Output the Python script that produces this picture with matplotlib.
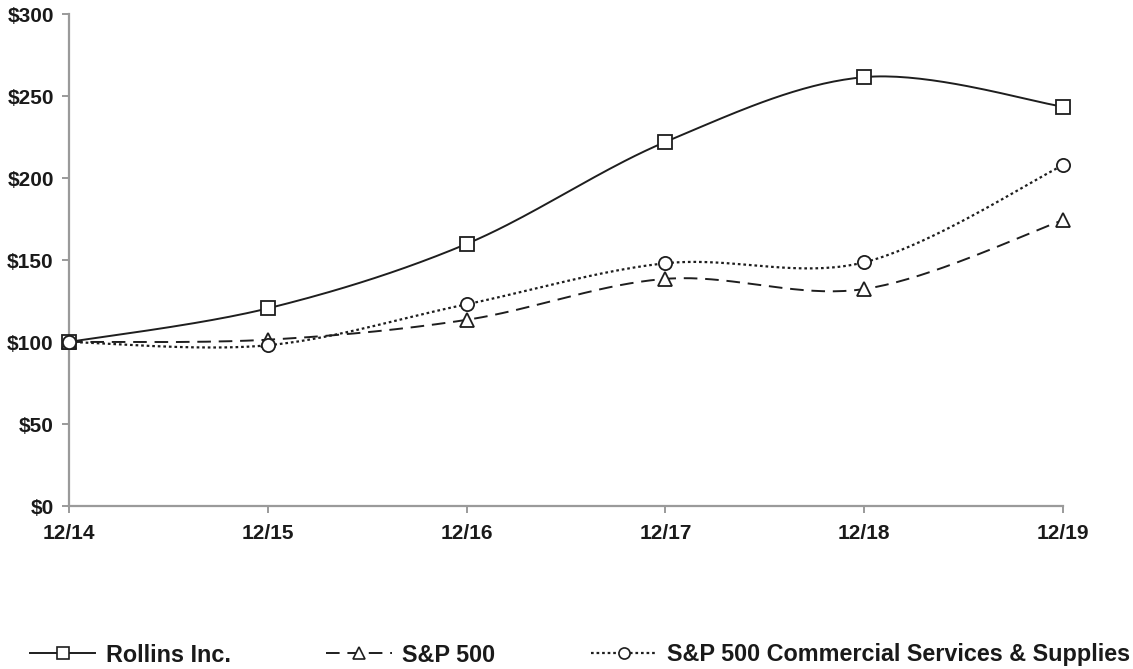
import numpy as np
import matplotlib
matplotlib.use("Agg")
import matplotlib.pyplot as plt
from matplotlib.lines import Line2D

categories = ["12/14", "12/15", "12/16", "12/17", "12/18", "12/19"]
rollins = [100, 120.5, 159.8, 222.0, 261.5, 243.5]
sp500 = [100, 101.4, 113.5, 138.5, 132.3, 174.3]
commercial = [100, 98.0, 123.0, 148.0, 148.6, 207.8]
series_names = ["Rollins Inc.", "S&P 500", "S&P 500 Commercial Services & Supplies"]
y_ticks = [0, 50, 100, 150, 200, 250, 300]


def smooth(xs, ys, n=40):
    xs = np.asarray(xs, float)
    ys = np.asarray(ys, float)
    P = np.column_stack([xs, ys])
    P = np.vstack([P[0], P, P[-1]])
    out = []
    for i in range(1, len(P) - 2):
        p0, p1, p2, p3 = P[i - 1], P[i], P[i + 1], P[i + 2]
        c1 = p1 + (p2 - p0) / 6.0
        c2 = p2 - (p3 - p1) / 6.0
        t = np.linspace(0, 1, n)[:, None]
        b = ((1 - t) ** 3) * p1 + 3 * ((1 - t) ** 2) * t * c1 + 3 * (1 - t) * t ** 2 * c2 + t ** 3 * p2
        out.append(b if i == 1 else b[1:])
    B = np.vstack(out)
    return B[:, 0], B[:, 1]


plt.rcParams['font.family'] = ['Liberation Sans', 'DejaVu Sans']
fig = plt.figure(figsize=(11.33, 6.69), dpi=100)
ax = fig.add_axes([69 / 1133, 1 - 506 / 669, (1063 - 69) / 1133, (506 - 14) / 669])

x = np.arange(len(categories))
col = "#1e1e1e"
styles = [
    dict(ls="-", marker="s", lw=1.4),
    dict(ls=(0, (7, 4)), marker="^", lw=1.4),
    dict(ls=(0, (1.2, 1.3)), marker="o", lw=1.6),
]
data = [rollins, sp500, commercial]
handles = []
for vals, st, name in zip(data, styles, series_names):
    sx, sy = smooth(x, vals)
    ax.plot(sx, sy, color=col, lw=st["lw"], ls=st["ls"], clip_on=False, zorder=3)
    ax.plot(x, vals, ls="none", marker=st["marker"], ms=9.5, mfc="white", mec=col,
            mew=1.3, clip_on=False, zorder=4)
    handles.append(Line2D([], [], color=col, lw=st["lw"], ls=st["ls"], marker=st["marker"],
                          ms=8, mfc="white", mec=col, mew=1.2))

ax.set_xlim(0, len(categories) - 1)
ax.set_ylim(0, 300)
ax.set_xticks(x)
ax.set_xticklabels(categories)
ax.set_yticks(y_ticks)
ax.set_yticklabels([f"${v}" for v in y_ticks])
for s in ["top", "right"]:
    ax.spines[s].set_visible(False)
for s in ["left", "bottom"]:
    ax.spines[s].set_color("#9a9a9a")
    ax.spines[s].set_linewidth(1.6)
ax.tick_params(axis="both", colors="#9a9a9a", length=5, width=1.4, direction="out",
               labelsize=15, labelcolor="#1a1a1a")
ax.tick_params(axis="y", pad=6)
ax.tick_params(axis="x", pad=8)
for lbl in ax.get_xticklabels() + ax.get_yticklabels():
    lbl.set_fontweight("bold")

leg = fig.legend(handles, series_names, loc="center", ncol=3,
                 bbox_to_anchor=(580 / 1133, 1 - 655 / 669), frameon=False,
                 prop=dict(size=16.8, weight="bold"), handlelength=2.8,
                 handletextpad=0.45, columnspacing=4.1, borderpad=0, labelcolor="#1a1a1a")

fig.savefig("out.png", dpi=100)
